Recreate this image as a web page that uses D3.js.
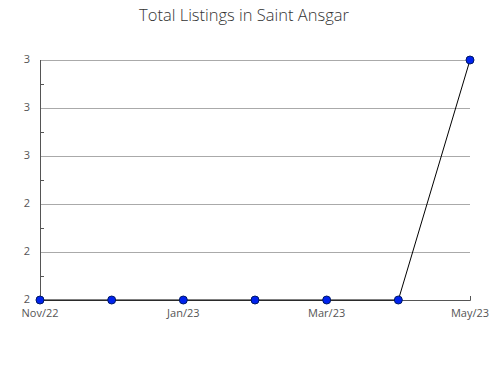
<!DOCTYPE html>
<html>
<head>
<meta charset="utf-8">
<script src="https://cdn.jsdelivr.net/npm/d3@7"></script>
<style>
  body { margin: 0; background: #fff; }
  text { font-family: "Open Sans", "DejaVu Sans", sans-serif; }
</style>
</head>
<body>
<div id="chart"></div>
<script>
const months = ["Nov/22", "Dec/22", "Jan/23", "Feb/23", "Mar/23", "Apr/23", "May/23"];
const listings = [2, 2, 2, 2, 2, 2, 3];
const xLabels = ["Nov/22", "Jan/23", "Mar/23", "May/23"];
const yTicks = [2, 2.2, 2.4, 2.6, 2.8, 3];
const yMinor = [2.1, 2.3, 2.5, 2.7, 2.9];

let width = 490, height = 380;
let margin = { top: 60, right: 20, bottom: 80, left: 40 };
let svg = d3.select("#chart").append("svg").attr("width", width).attr("height", height);

let x = d3.scalePoint().domain(months).range([margin.left, width - margin.right]);
let y = d3.scaleLinear().domain([2, 3]).range([height - margin.bottom, margin.top]);

svg.append("text")
    .attr("x", 244)
    .attr("y", 21)
    .attr("text-anchor", "middle")
    .attr("font-size", 16.5)
    .attr("font-weight", 300)
    .attr("fill", "#333")
    .text("Total Listings in Saint Ansgar");

// grid lines
svg.selectAll(".grid").data(yTicks.slice(1)).enter().append("line")
    .attr("x1", margin.left)
    .attr("x2", width - margin.right)
    .attr("y1", d => y(d))
    .attr("y2", d => y(d))
    .attr("stroke", "#aaa")
    .attr("stroke-width", 1)
    .attr("shape-rendering", "crispEdges");

// minor ticks
svg.selectAll(".minor").data(yMinor).enter().append("line")
    .attr("x1", margin.left)
    .attr("x2", margin.left + 4)
    .attr("y1", d => Math.round(y(d)) + 0.5)
    .attr("y2", d => Math.round(y(d)) + 0.5)
    .attr("stroke", "#555");

// axes
svg.append("line")
    .attr("x1", margin.left + 0.5).attr("x2", margin.left + 0.5)
    .attr("y1", margin.top).attr("y2", y(2))
    .attr("stroke", "#555");
svg.append("line")
    .attr("x1", margin.left).attr("x2", width - margin.right + 0.5)
    .attr("y1", y(2) + 0.5).attr("y2", y(2) + 0.5)
    .attr("stroke", "#555");
svg.append("line")
    .attr("x1", width - margin.right + 0.5).attr("x2", width - margin.right + 0.5)
    .attr("y1", y(2) - 4).attr("y2", y(2) + 0.5)
    .attr("stroke", "#555");

svg.selectAll(".ylabel").data(yTicks).enter().append("text")
    .attr("x", margin.left - 10)
    .attr("y", d => y(d) + 3)
    .attr("text-anchor", "end")
    .attr("font-size", 11)
    .attr("fill", "#555")
    .text(d => d3.format(".0f")(d));

svg.selectAll(".xlabel").data(xLabels).enter().append("text")
    .attr("x", d => x(d))
    .attr("y", y(2) + 17)
    .attr("text-anchor", "middle")
    .attr("font-size", 11)
    .attr("fill", "#555")
    .text(d => d);

let line = d3.line().x((d, i) => x(months[i])).y(d => y(d));
svg.append("path")
    .datum(listings)
    .attr("d", line)
    .attr("fill", "none")
    .attr("stroke", "black")
    .attr("stroke-width", 1);

svg.selectAll(".pt").data(listings).enter().append("circle")
    .attr("cx", (d, i) => x(months[i]))
    .attr("cy", d => y(d))
    .attr("r", 4)
    .attr("fill", "#0022ee")
    .attr("stroke", "#001a66")
    .attr("stroke-width", 1);
</script>
</body>
</html>
